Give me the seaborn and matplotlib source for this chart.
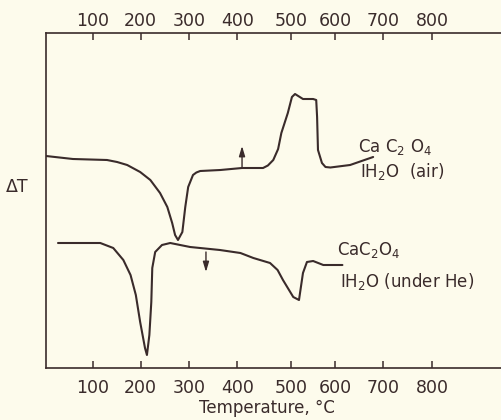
import numpy as np
import pandas as pd
import matplotlib
matplotlib.use("Agg")
import matplotlib.pyplot as plt
import seaborn as sns

# DTA traces of calcium oxalate monohydrate (temperature in deg C, delta-T in arbitrary units)
air_temp = [3, 59, 130, 151, 172, 199, 220, 240, 255, 265, 271, 277, 286, 292, 298, 308, 315, 323,
            365, 409, 448, 457, 467, 476, 482, 494, 502, 509, 527, 550, 557, 559, 561, 570, 578, 589, 631, 679]
air_dt = [21.2, 20.9, 20.8, 20.6, 20.3, 19.6, 18.8, 17.5, 16.1, 14.5, 13.3, 12.8, 13.6, 16.1, 18.1, 19.3, 19.55, 19.7,
          19.8, 20.0, 20.0, 20.25, 20.8, 21.9, 23.5, 25.5, 27.1, 27.4, 26.9, 26.9, 26.8, 25.1, 21.8, 20.5, 20.1, 20.05, 20.3, 21.1]

he_temp = [28, 116, 143, 164, 179, 190, 199, 209, 213, 218, 222, 224, 230, 244, 261, 302,
           364, 406, 430, 461, 475, 485, 505, 518, 527, 536, 550, 573, 615]
he_dt = [12.5, 12.5, 12.0, 10.8, 9.3, 7.3, 4.6, 2.0, 1.3, 3.3, 6.6, 10.0, 11.6, 12.3, 12.5, 12.1,
         11.8, 11.5, 11.0, 10.5, 9.8, 8.8, 7.1, 6.8, 9.5, 10.6, 10.7, 10.3, 10.3]

# heating-direction arrows: (temperature, tail, head)
air_arrow = (409, 20.0, 22.2)
he_arrow = (335, 11.6, 9.6)

tick_values = [100, 200, 300, 400, 500, 600, 700, 800]

# graduation of the hand-ruled temperature scale (deg C -> scale divisions)
scale_temp = [0, 100, 200, 300, 400, 500, 600, 700, 800, 1000]
scale_div = [0.0, 0.99, 1.98, 2.98, 3.97, 5.08, 5.99, 6.98, 7.99, 10.0]


def fwd(t):
    return np.interp(t, scale_temp, scale_div)


def inv(u):
    return np.interp(u, scale_div, scale_temp)


ink = "#3a2b2b"
paper = "#fdfbec"

sns.set_theme(style="white")
plt.rcParams["font.family"] = ["DejaVu Sans"]
plt.rcParams["mathtext.fontset"] = "dejavusans"

fig = plt.figure(figsize=(5.01, 4.20), dpi=100, facecolor=paper)
ax = fig.add_axes([46 / 501, 52 / 420, 1 - 46 / 501, (368 - 33) / 420])
ax.set_facecolor(paper)
ax.set_xscale("function", functions=(fwd, inv))

df = pd.concat([
    pd.DataFrame({"T": air_temp, "dT": air_dt, "run": "air"}),
    pd.DataFrame({"T": he_temp, "dT": he_dt, "run": "He"}),
])
sns.lineplot(data=df, x="T", y="dT", units="run", estimator=None, sort=False,
             color=ink, lw=1.5, ax=ax, legend=False,
             solid_joinstyle="round", solid_capstyle="round")

ax.set_xlim(3, 941)
ax.set_ylim(0, 33.5)
ax.set_yticks([])
ax.set_xticks(tick_values)
ax.set_xticklabels([str(v) for v in tick_values])
ax.tick_params(axis="x", direction="in", length=5, width=1.1, colors=ink,
               labelsize=12.5, pad=8, bottom=True, top=False)
ax.set_xlabel("")
ax.set_ylabel("")
for side in ["left", "bottom", "top"]:
    ax.spines[side].set_color(ink)
    ax.spines[side].set_linewidth(1.2)
ax.spines["right"].set_visible(False)

top = ax.twiny()
top.set_xscale("function", functions=(fwd, inv))
top.set_xlim(ax.get_xlim())
top.set_xticks(tick_values)
top.set_xticklabels([str(v) for v in tick_values])
top.tick_params(axis="x", direction="in", length=5, width=1.1, colors=ink,
                labelsize=12.5, pad=2)
for side in top.spines:
    top.spines[side].set_visible(False)

for t, a, b in [air_arrow, he_arrow]:
    ax.annotate("", xy=(t, b), xytext=(t, a),
                arrowprops=dict(arrowstyle="-|>,head_length=0.5,head_width=0.15",
                                color=ink, lw=1.0, shrinkA=0, shrinkB=0))

txt = dict(color=ink, fontsize=12, ha="left", va="center")
ax.text(648, 22.1, r"Ca C$_2$ O$_4$", **txt)
ax.text(652, 19.6, r"IH$_2$O  (air)", **txt)
ax.text(604, 11.8, r"CaC$_2$O$_4$", **txt)
ax.text(610, 8.6, r"IH$_2$O (under He)", **txt)

fig.text(17 / 501, 1 - 187 / 420, "ΔT", color=ink, fontsize=12.5, ha="center", va="center")
fig.text(267 / 501, 1 - 408 / 420, "Temperature, °C", color=ink, fontsize=12,
         ha="center", va="center")

fig.savefig("out.png", dpi=100, facecolor=paper)
